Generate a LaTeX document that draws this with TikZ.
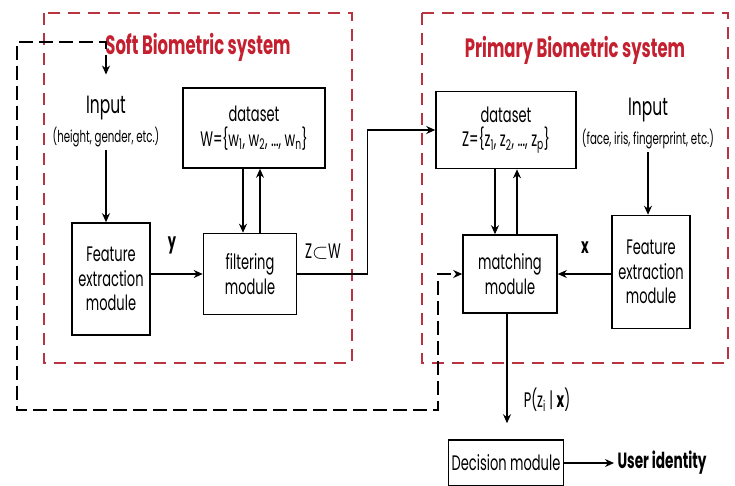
\documentclass[tikz,border=0pt]{standalone}
\usepackage{fontspec}
\setmainfont[FakeStretch=0.62]{Poppins}
\usetikzlibrary{positioning,arrows.meta}

\definecolor{sysred}{HTML}{C4202F}
\definecolor{framered}{HTML}{B83440}

\newcommand{\modfont}{\fontsize{21}{24.5}\selectfont}
\newcommand{\subfont}{\fontsize{16.5}{18}\selectfont}
\newcommand{\infont}{\fontsize{25}{28}\selectfont}
\newcommand{\sysfont}{\fontsize{26.5}{30}\selectfont\bfseries}

\begin{document}
\begin{tikzpicture}[x=1pt, y=-1pt,
  mod/.style={draw, line width=1.6pt, align=center, inner sep=1pt, font=\modfont},
  sysframe/.style={draw=framered, line width=1.8pt, dash pattern=on 12pt off 8pt},
  systitle/.style={font=\sysfont, text=sysred},
  lbl/.style={font=\modfont},
  arr/.style={line width=1.4pt, -{Stealth[length=9pt,width=8pt]}},
  fb/.style={line width=2.6pt, dash pattern=on 14pt off 6pt,
    {Stealth[length=9pt,width=8pt]}-{Stealth[length=9pt,width=8pt]}}]
  \useasboundingbox[fill=white] (0,0) rectangle (735,485);

  % the two systems
  \draw[sysframe] (44,13) rectangle (352,363);
  \draw[sysframe] (422,13) rectangle (728,363);
  \node[systitle] (softtitle) at (198,47) {Soft Biometric system};
  \node[systitle] (primtitle) at (575,50) {Primary Biometric system};

  % soft biometric side
  \node[font=\infont] (inL) at (106,108) {Input};
  \node[font=\subfont, below=0pt of inL] (inLsub) {(height, gender, etc.)};
  \node[mod, minimum width=78pt, minimum height=112pt] (featL) at (111,279) {Feature\\extraction\\module};
  \node[mod, minimum width=93pt, minimum height=81pt] (filt) at (250,274) {filtering\\module};
  \node[mod, minimum width=142pt, minimum height=80pt] (dsW) at (254,128)
    {dataset\\W=\{w\textsubscript{1}, w\textsubscript{2}, \dots, w\textsubscript{n}\}};
  \node[lbl, font=\modfont\bfseries] (ylbl) at (172,245) {y};
  \node[lbl] (zw) at (323,252) {Z$\subset$W};

  % primary biometric side
  \node[mod, minimum width=140pt, minimum height=77pt] (dsZ) at (506,130)
    {dataset\\Z=\{z\textsubscript{1}, z\textsubscript{2}, \dots, z\textsubscript{p}\}};
  \node[font=\infont] (inR) at (648,110) {Input};
  \node[font=\subfont, below=0pt of inR] (inRsub) {(face, iris, fingerprint, etc.)};
  \node[mod, minimum width=78pt, minimum height=113pt] (featR) at (651,272) {Feature\\extraction\\module};
  \node[mod, minimum width=94pt, minimum height=78pt] (match) at (510,274) {matching\\module};
  \node[lbl, font=\modfont\bfseries] (xlbl) at (585,248) {x};
  \node[lbl] (plbl) at (547,400) {P(z\textsubscript{i}\,|\,\textbf{x})};
  \node[mod, minimum width=115pt, minimum height=46pt] (dec) at (506,463) {Decision module};
  \node[font=\fontsize{22}{26}\selectfont\bfseries, anchor=west] (user) at (614,463) {User identity};

  % connectors
  \draw[arr] (inLsub.south) -- (inLsub.south |- featL.north);
  \draw[arr] (featL.east |- filt.west) -- (filt.west);
  \draw[arr] ([xshift=-11pt]dsW.south) -- ([xshift=-11pt]dsW.south |- filt.north);
  \draw[arr] ([xshift=10pt]filt.north) -- ([xshift=10pt]filt.north |- dsW.south);
  \draw[arr] (filt.east) -- ++(70,0) |- (dsZ.west);
  \draw[arr] ([xshift=-11pt]dsZ.south) -- ([xshift=-11pt]dsZ.south |- match.north);
  \draw[arr] ([xshift=7pt]match.north) -- ([xshift=7pt]match.north |- dsZ.south);
  \draw[arr] (inRsub.south) -- (inRsub.south |- featR.north);
  \draw[arr] (featR.west |- match.east) -- (match.east);
  \draw[arr, shorten >=16pt] ([xshift=-3pt]match.south) -- ([xshift=-3pt]match.south |- dec.north);
  \draw[arr] (dec.east) -- (user.west);

  % feedback loop
  \draw[fb, shorten <=18pt] (inL.north) |- (17,42) |- (438,410) |- (match.west);
\end{tikzpicture}
\end{document}
